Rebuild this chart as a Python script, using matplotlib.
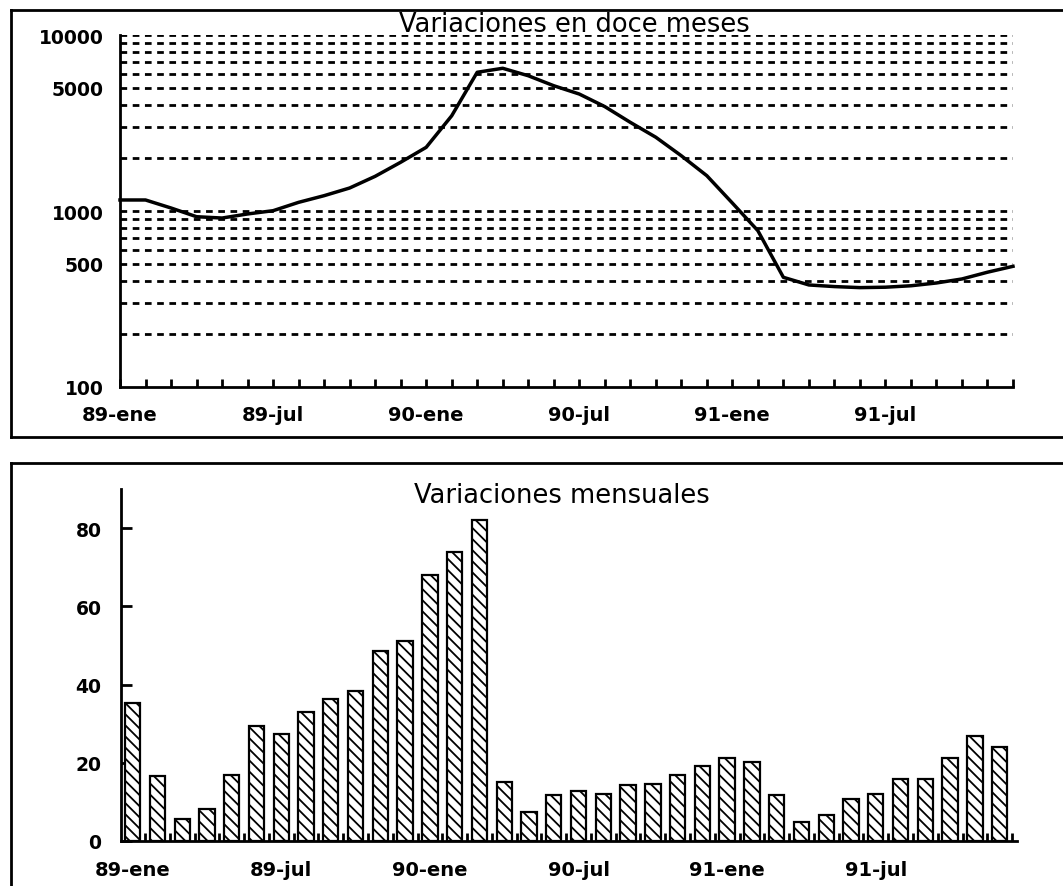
import matplotlib
matplotlib.use('Agg')
import matplotlib.pyplot as plt
from matplotlib.lines import Line2D
import numpy as np

W, H = 1063, 887

# meses 89-ene .. 91-dic
anios = ['89', '90', '91']
nombres = ['ene', 'feb', 'mar', 'abr', 'may', 'jun',
           'jul', 'ago', 'sep', 'oct', 'nov', 'dic']
meses = [f'{a}-{m}' for a in anios for m in nombres]

# variaciones en doce meses (%), escala log
doce_meses = [1155, 1155, 1040, 928, 912, 962, 1004, 1120, 1222, 1351, 1574, 1892,
              2300, 3475, 6140, 6470, 5870, 5150, 4620, 3920, 3190, 2625, 2060, 1587,
              1110, 773, 420, 380, 372, 367, 369, 376, 390, 411, 449, 485]

# variaciones mensuales (%)
mensual = [35.3, 16.5, 5.7, 8.1, 16.9, 29.5, 27.4, 33.1, 36.2, 38.3, 48.5, 51.2,
           68.1, 73.9, 82.1, 15.0, 7.3, 11.7, 12.8, 12.1, 14.4, 14.5, 16.8, 19.2,
           21.1, 20.1, 11.7, 4.9, 6.6, 10.7, 11.9, 15.8, 15.8, 21.2, 26.9, 24.1]

log_ticks = [100, 500, 1000, 5000, 10000]
log_grid = [200, 300, 400, 500, 600, 700, 800, 900, 1000,
            2000, 3000, 4000, 5000, 6000, 7000, 8000, 9000, 10000]
bar_ticks = [0, 20, 40, 60, 80]

plt.rcParams['font.family'] = 'DejaVu Sans'
plt.rcParams['font.weight'] = 'bold'
plt.rcParams['hatch.linewidth'] = 1.3


def box(left, top, right, bottom):
    # px -> figure fraction
    return [left / W, 1 - bottom / H, (right - left) / W, (bottom - top) / H]


fig = plt.figure(figsize=(W / 100, H / 100), dpi=100)

# ---- panel superior ----
ax1 = fig.add_axes(box(120, 36, 1013, 388))
ax1.set_yscale('log')
for v in log_grid:
    ax1.axhline(v, color='black', lw=2, ls=(0, (2.4, 2)), zorder=1)
x = np.arange(len(meses))
ax1.plot(x, doce_meses, color='black', lw=2.5, zorder=3, clip_on=False)
ax1.set_xlim(0, len(meses) - 1)
ax1.set_ylim(100, 10000)
ax1.set_yticks(log_ticks)
ax1.set_yticklabels([str(v) for v in log_ticks])
ax1.yaxis.set_minor_locator(matplotlib.ticker.NullLocator())
ax1.set_xticks(x)
ax1.set_xticklabels([m if i % 6 == 0 else '' for i, m in enumerate(meses)])
ax1.tick_params(axis='x', direction='in', length=6, width=2, pad=13, labelsize=14)
ax1.tick_params(axis='y', length=0, pad=12, labelsize=13.5)
for s in ['top', 'right']:
    ax1.spines[s].set_visible(False)
for s in ['left', 'bottom']:
    ax1.spines[s].set_linewidth(2)

# ---- panel inferior ----
ax2 = fig.add_axes(box(121, 490, 1017, 842))
ax2.bar(x, mensual, width=0.62, color='white', edgecolor='black',
        lw=1.6, hatch='\\\\\\', zorder=2)
ax2.set_xlim(-0.47, len(meses) - 0.3)
ax2.set_ylim(0, 90)
ax2.set_yticks(bar_ticks)
ax2.set_xticks(x[::6])
ax2.set_xticklabels(meses[::6])
ax2.set_xticks(x + 0.5, minor=True)
ax2.tick_params(axis='x', which='major', length=0, pad=14, labelsize=14)
ax2.tick_params(axis='x', which='minor', direction='in', length=6, width=2)
ax2.tick_params(axis='y', direction='in', length=8, width=2, pad=14, labelsize=13.5)
for s in ['top', 'right']:
    ax2.spines[s].set_visible(False)
for s in ['left', 'bottom']:
    ax2.spines[s].set_linewidth(2)

# titulos
fig.text(574 / W, 1 - 25 / H, 'Variaciones en doce meses', ha='center', va='center',
         fontsize=18.5, fontweight='normal')
fig.text(562 / W, 1 - 496 / H, 'Variaciones mensuales', ha='center', va='center',
         fontsize=18.5, fontweight='normal')

# marcos exteriores
frames = [
    [(11, 1070), (11, 11)], [(11, 11), (11, 438)], [(11, 1070), (438, 438)],
    [(11, 1070), (464, 464)], [(11, 11), (464, 890)],
]
for xs, ys in frames:
    fig.add_artist(Line2D([v / W for v in xs], [1 - v / H for v in ys],
                          color='black', lw=2, transform=fig.transFigure))

fig.savefig('out.png', dpi=100)
